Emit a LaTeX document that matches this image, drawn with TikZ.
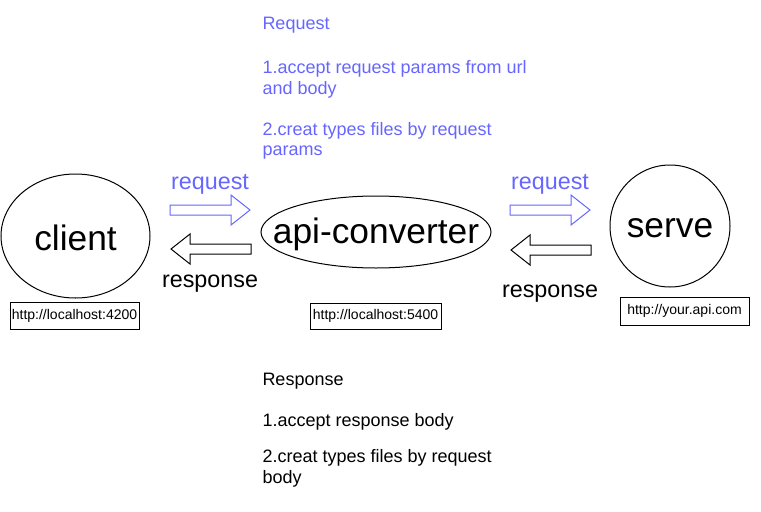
\documentclass[tikz,border=0pt]{standalone}
\usepackage{fontspec}
\setmainfont{Liberation Sans}
\definecolor{reqblue}{RGB}{102,102,255}
\begin{document}
\begin{tikzpicture}[x=0.75pt,y=-0.75pt,line width=0.75pt,
  big/.style={font=\fontsize{26.5pt}{30pt}\selectfont,yshift=-1.5pt},
  url/.style={draw,inner sep=0pt,font=\fontsize{10.5pt}{12pt}\selectfont},
  lbl/.style={font=\fontsize{17.5pt}{20pt}\selectfont,yshift=-2.2pt},
  note/.style={anchor=west,inner sep=0pt,font=\fontsize{13.5pt}{16pt}\selectfont,yshift=-2.5pt},
  fatarrow/.pic={\draw[pic actions] (0,-5) -- (61,-5) -- (61,-15) -- (80,0) -- (61,15) -- (61,5) -- (0,5) -- cycle;}
]
\useasboundingbox (0,0) rectangle (761,511);
% ellipses
\draw (75.5,236) ellipse [x radius=74.5, y radius=62];
\node[big] (client) at (75.5,236) {client};
\draw (376,232) ellipse [x radius=115, y radius=36];
\node[big] (conv) at (376,232) {api-converter};
\draw (670,226) ellipse [x radius=60, y radius=61];
\node[big] (serve) at (670,226) {serve};
% url boxes
\node[url,minimum width=129*0.75pt,minimum height=27*0.75pt] (u1) at (74.5,315.5) {http://localhost:4200};
\node[url,minimum width=131*0.75pt,minimum height=26*0.75pt] (u2) at (375.5,316) {http://localhost:5400};
\node[url,minimum width=129*0.75pt,minimum height=28*0.75pt] (u3) at (684.5,311) {http://your.api.com};
% arrows
\pic[draw=reqblue] (a1) at (170,210) {fatarrow};
\pic[draw=black,xscale=-1] (a2) at (251,249) {fatarrow};
\pic[draw=reqblue] (a3) at (510,210) {fatarrow};
\pic[draw=black,xscale=-1] (a4) at (591,250) {fatarrow};
\node[lbl,text=reqblue] (l1) at (210,181) {request};
\node[lbl] (l2) at (210,281) {response};
\node[lbl,text=reqblue] (l3) at (550,181) {request};
\node[lbl] (l4) at (550,291) {response};
% notes
\begin{scope}[text=reqblue]
\node[note] (r0) at (262,22) {Request};
\node[note] (r1) at (262,66) {1.accept request params from url};
\node[note] (r2) at (262,87) {and body};
\node[note] (r3) at (262,128) {2.creat types files by request};
\node[note] (r4) at (262,149) {params};
\end{scope}
\node[note] (s0) at (262,378) {Response};
\node[note] (s1) at (262,419) {1.accept response body};
\node[note] (s2) at (262,455) {2.creat types files by request};
\node[note] (s3) at (262,476) {body};
\end{tikzpicture}
\end{document}
